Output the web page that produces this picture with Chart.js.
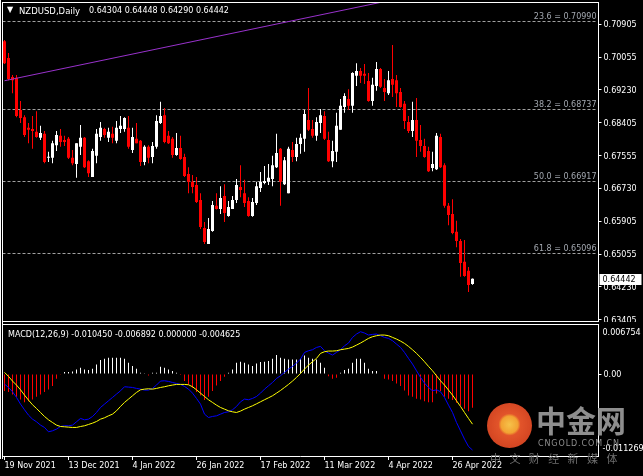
<!DOCTYPE html>
<html>
<head>
<meta charset="utf-8">
<script src="https://cdn.jsdelivr.net/npm/chart.js@4.4.1/dist/chart.umd.min.js"></script>
<style>
html, body { margin: 0; padding: 0; background: #000; overflow: hidden; }
#wrap { position: relative; width: 643px; height: 476px; background: #000; font-family: "DejaVu Sans", sans-serif; }
canvas { position: absolute; left: 0; }
#price { top: 0; }
#macd { top: 322px; }
.ln { position: absolute; background: #fff; }
.txt { position: absolute; color: #fff; font-size: 8px; line-height: 10px; white-space: pre; }
.wm { position: absolute; font-family: "Noto Sans CJK SC", sans-serif; white-space: pre; }
</style>
</head>
<body>
<div id="wrap">
  <canvas id="price" width="643" height="322"></canvas>
  <canvas id="macd" width="643" height="154"></canvas>

  <div class="ln" style="left:0;top:0;width:1px;height:459px"></div>
  <div class="ln" style="left:2px;top:2px;width:1px;height:457px"></div>
  <div class="ln" style="left:2px;top:2px;width:597px;height:1px"></div>
  <div class="ln" style="left:2px;top:321px;width:597px;height:1px"></div>
  <div class="ln" style="left:2px;top:324px;width:597px;height:1px"></div>

  <div class="txt" style="left:7px;top:5px;font-size:8px">▼</div>
  <div class="txt" id="symbol" style="left:19px;top:6px;font-size:8.5px"></div>
  <div class="txt" id="ohlc" style="left:89px;top:6px"></div>
  <div class="txt" id="macdTitle" style="left:8px;top:330px"></div>

  <div class="wm" style="left:487px;top:403px;width:45px;height:45px;border-radius:50%;
       background:radial-gradient(circle at 50% 48%, #f6c24a 0, #f2a232 26%, #e2542a 34%, #c83a1c 100%);"></div>
  <div class="wm" style="left:536px;top:399px;font-size:30px;font-weight:bold;color:#8e8e8e;line-height:40px">中金网</div>
  <div class="wm" style="left:538px;top:439px;font-family:'DejaVu Sans';font-size:8px;letter-spacing:0.9px;color:#8e8e8e">CNGOLD.COM.CN</div>
  <div class="wm" style="left:490px;top:450px;font-size:11px;letter-spacing:8.4px;color:#6e6e6e">中文财经新媒体</div>
</div>

<script>
// NZDUSD daily, 19 Nov 2021 .. 29 Apr 2022 (one value per bar)
var tickDates = ["19 Nov 2021", "13 Dec 2021", "4 Jan 2022", "26 Jan 2022",
                 "17 Feb 2022", "11 Mar 2022", "4 Apr 2022", "26 Apr 2022"];
var barsPerTick = 16;
var slots = 149; // bars plus the empty shift on the right

var opens = [0.7047,0.7004,0.6956,0.6954,0.6872,0.6854,0.6827,0.6824,0.6817,0.6802,
  0.6812,0.6751,0.6751,0.6783,0.6807,0.6796,0.6799,0.6751,0.6735,0.6779,
  0.6802,0.6742,0.6702,0.6756,0.6804,0.6824,0.6802,0.6812,0.6794,0.6824,
  0.6824,0.6827,0.6771,0.6799,0.6794,0.6740,0.6779,0.6753,0.6779,0.6839,
  0.6859,0.6807,0.6799,0.6758,0.6776,0.6753,0.6710,0.6690,0.6682,0.6644,
  0.6573,0.6532,0.6565,0.6629,0.6621,0.6654,0.6603,0.6621,0.6644,0.6677,
  0.6661,0.6641,0.6603,0.6636,0.6674,0.6687,0.6690,0.6697,0.6727,0.6774,
  0.6684,0.6661,0.6771,0.6753,0.6786,0.6799,0.6847,0.6824,0.6807,0.6839,
  0.6857,0.6796,0.6742,0.6766,0.6822,0.6880,0.6900,0.6883,0.6959,0.6971,
  0.6964,0.6946,0.6895,0.6933,0.6976,0.6928,0.6915,0.6951,0.6948,0.6918,
  0.6888,0.6842,0.6819,0.6847,0.6796,0.6781,0.6768,0.6725,0.6722,0.6804,
  0.6732,0.6629,0.6608,0.6563,0.6540,0.6487,0.6464,0.64304];
var highs = [0.7050,0.7017,0.6961,0.6961,0.6895,0.6859,0.6839,0.6857,0.6869,0.6832,
  0.6819,0.6766,0.6794,0.6819,0.6824,0.6807,0.6804,0.6771,0.6788,0.6834,
  0.6804,0.6745,0.6774,0.6824,0.6842,0.6827,0.6827,0.6830,0.6844,0.6857,
  0.6854,0.6857,0.6827,0.6839,0.6796,0.6783,0.6783,0.6791,0.6859,0.6893,
  0.6877,0.6819,0.6804,0.6814,0.6807,0.6761,0.6727,0.6707,0.6702,0.6661,
  0.6588,0.6598,0.6641,0.6661,0.6679,0.6684,0.6641,0.6654,0.6697,0.6732,
  0.6695,0.6651,0.6649,0.6690,0.6715,0.6730,0.6735,0.6756,0.6812,0.6776,
  0.6753,0.6779,0.6791,0.6802,0.6812,0.6872,0.6928,0.6847,0.6854,0.6875,
  0.6869,0.6817,0.6794,0.6865,0.6900,0.6915,0.6925,0.6968,0.6991,0.6979,
  0.6989,0.6966,0.6954,0.6994,0.6979,0.6951,0.6971,0.7037,0.6961,0.6928,
  0.6895,0.6857,0.6893,0.6903,0.6834,0.6799,0.6779,0.6766,0.6814,0.6812,
  0.6737,0.6636,0.6646,0.6591,0.6545,0.6542,0.6474,0.64448];
var lows = [0.6989,0.6948,0.6915,0.6854,0.6839,0.6804,0.6788,0.6774,0.6802,0.6796,
  0.6737,0.6740,0.6737,0.6768,0.6779,0.6781,0.6748,0.6732,0.6700,0.6758,
  0.6725,0.6702,0.6702,0.6737,0.6794,0.6802,0.6791,0.6788,0.6788,0.6814,
  0.6817,0.6774,0.6763,0.6788,0.6730,0.6732,0.6737,0.6737,0.6774,0.6837,
  0.6788,0.6786,0.6751,0.6756,0.6746,0.6702,0.6661,0.6661,0.6636,0.6570,
  0.6532,0.6532,0.6563,0.6620,0.6608,0.6588,0.6601,0.6621,0.6636,0.6651,
  0.6626,0.6601,0.6601,0.6631,0.6664,0.6684,0.6682,0.6679,0.6725,0.6629,
  0.6682,0.6661,0.6740,0.6742,0.6761,0.6766,0.6819,0.6802,0.6794,0.6814,
  0.6796,0.6740,0.6727,0.6740,0.6822,0.6865,0.6872,0.6865,0.6933,0.6941,
  0.6938,0.6893,0.6883,0.6921,0.6928,0.6895,0.6910,0.6905,0.6880,0.6878,
  0.6824,0.6814,0.6804,0.6753,0.6766,0.6751,0.6715,0.6717,0.6720,0.6725,
  0.6624,0.6580,0.6557,0.6524,0.6449,0.6449,0.6410,0.64290];
var closes = [0.6991,0.6951,0.6948,0.6857,0.6852,0.6809,0.6822,0.6819,0.6804,0.6814,
  0.6740,0.6753,0.6788,0.6809,0.6791,0.6791,0.6751,0.6737,0.6788,0.6802,
  0.6727,0.6712,0.6768,0.6812,0.6827,0.6809,0.6817,0.6802,0.6827,0.6832,
  0.6852,0.6779,0.6804,0.6788,0.6740,0.6779,0.6751,0.6781,0.6844,0.6857,
  0.6791,0.6788,0.6758,0.6776,0.6748,0.6705,0.6690,0.6677,0.6639,0.6575,
  0.6537,0.6570,0.6631,0.6621,0.6649,0.6611,0.6626,0.6644,0.6682,0.6669,
  0.6636,0.6603,0.6639,0.6679,0.6690,0.6692,0.6700,0.6732,0.6763,0.6690,
  0.6745,0.6774,0.6753,0.6786,0.6802,0.6862,0.6822,0.6807,0.6842,0.6859,
  0.6799,0.6742,0.6768,0.6832,0.6883,0.6908,0.6883,0.6966,0.6971,0.6959,
  0.6959,0.6895,0.6936,0.6976,0.6931,0.6918,0.6948,0.6936,0.6915,0.6880,
  0.6844,0.6819,0.6847,0.6794,0.6781,0.6753,0.6717,0.6735,0.6807,0.6727,
  0.6629,0.6606,0.6560,0.6540,0.6484,0.6451,0.6428,0.64442];

// MACD(12,26,9)
var macdMain = [-0.00138,-0.00184,-0.00243,-0.00321,-0.00413,-0.00491,-0.00565,-0.00620,-0.00656,-0.00702,
  -0.00734,-0.00794,-0.00780,-0.00757,-0.00721,-0.00711,-0.00711,-0.00702,-0.00656,-0.00610,
  -0.00629,-0.00620,-0.00583,-0.00528,-0.00459,-0.00413,-0.00367,-0.00321,-0.00275,-0.00230,
  -0.00174,-0.00179,-0.00184,-0.00197,-0.00207,-0.00220,-0.00220,-0.00197,-0.00151,-0.00096,
  -0.00092,-0.00101,-0.00115,-0.00129,-0.00142,-0.00170,-0.00207,-0.00262,-0.00335,-0.00413,
  -0.00551,-0.00597,-0.00583,-0.00574,-0.00551,-0.00528,-0.00519,-0.00491,-0.00445,-0.00381,
  -0.00344,-0.00353,-0.00335,-0.00308,-0.00262,-0.00207,-0.00161,-0.00115,-0.00060,-0.00023,
  0.00023,0.00069,0.00106,0.00151,0.00207,0.00298,0.00321,0.00335,0.00367,0.00381,
  0.00321,0.00289,0.00262,0.00298,0.00335,0.00390,0.00427,0.00505,0.00551,0.00583,
  0.00565,0.00537,0.00546,0.00551,0.00528,0.00505,0.00491,0.00459,0.00413,0.00367,
  0.00298,0.00216,0.00138,0.00046,-0.00046,-0.00124,-0.00184,-0.00230,-0.00216,-0.00243,
  -0.00321,-0.00427,-0.00528,-0.00666,-0.00780,-0.00895,-0.00996,-0.010450];
var macdSignal = [0.00023,-0.00032,-0.00096,-0.00151,-0.00216,-0.00289,-0.00358,-0.00422,-0.00473,-0.00528,
  -0.00583,-0.00629,-0.00666,-0.00702,-0.00721,-0.00725,-0.00730,-0.00734,-0.00734,-0.00721,
  -0.00711,-0.00693,-0.00675,-0.00652,-0.00620,-0.00601,-0.00574,-0.00551,-0.00505,-0.00445,
  -0.00390,-0.00344,-0.00298,-0.00252,-0.00216,-0.00207,-0.00202,-0.00207,-0.00197,-0.00184,
  -0.00174,-0.00161,-0.00151,-0.00142,-0.00142,-0.00142,-0.00147,-0.00174,-0.00216,-0.00262,
  -0.00308,-0.00353,-0.00390,-0.00427,-0.00459,-0.00482,-0.00505,-0.00519,-0.00528,-0.00509,
  -0.00482,-0.00459,-0.00436,-0.00409,-0.00381,-0.00353,-0.00326,-0.00298,-0.00262,-0.00225,
  -0.00184,-0.00142,-0.00096,-0.00046,0.00009,0.00069,0.00124,0.00170,0.00216,0.00285,
  0.00308,0.00317,0.00317,0.00321,0.00335,0.00344,0.00353,0.00372,0.00399,0.00427,
  0.00459,0.00491,0.00514,0.00528,0.00537,0.00537,0.00528,0.00505,0.00482,0.00454,
  0.00422,0.00381,0.00335,0.00285,0.00230,0.00170,0.00106,0.00046,-0.00023,-0.00092,
  -0.00151,-0.00220,-0.00289,-0.00367,-0.00445,-0.00528,-0.00610,-0.006892];
var macdHist = [-0.00234,-0.00248,-0.00280,-0.00312,-0.00349,-0.00386,-0.00372,-0.00349,-0.00312,-0.00280,
  -0.00248,-0.00211,-0.00165,-0.00064,-0.00010,0.00028,0.00028,0.00037,0.00064,0.00087,
  0.00064,0.00055,0.00073,0.00133,0.00193,0.00211,0.00225,0.00225,0.00225,0.00225,
  0.00211,0.00156,0.00110,0.00073,0.00018,0.00005,-0.00018,0.00018,0.00018,0.00101,
  0.00087,0.00064,0.00041,0.00018,-0.00014,-0.00096,-0.00142,-0.00188,-0.00248,-0.00294,
  -0.00358,-0.00312,-0.00234,-0.00156,-0.00096,-0.00037,0.00018,0.00064,0.00156,0.00170,
  0.00156,0.00133,0.00110,0.00147,0.00165,0.00170,0.00179,0.00211,0.00262,0.00225,
  0.00211,0.00202,0.00202,0.00202,0.00211,0.00257,0.00225,0.00211,0.00202,0.00156,
  0.00087,-0.00028,-0.00064,-0.00050,0.00018,0.00055,0.00073,0.00156,0.00211,0.00211,
  0.00156,0.00073,0.00041,0.00041,0.00000,-0.00064,-0.00073,-0.00096,-0.00129,-0.00165,
  -0.00225,-0.00294,-0.00312,-0.00340,-0.00349,-0.00372,-0.00386,-0.00386,-0.00266,-0.00234,
  -0.00312,-0.00340,-0.00358,-0.00395,-0.00431,-0.00477,-0.00510,-0.004625];
var macdLevel = 0;

// axes as shown by the terminal
var priceMin = 0.63367, priceMax = 0.71438;
var priceTicks = [0.70905, 0.70055, 0.69230, 0.68405, 0.67555, 0.66730, 0.65905, 0.65055, 0.64230, 0.63405];
var macdMin = -0.011269, macdMax = 0.006754;

// fibonacci retracement and trend line
var fiboNames = ["23.6", "38.2", "50.0", "61.8"];
var fiboLevels = [0.70990, 0.68737, 0.66917, 0.65096];
var trendBars = [0, 117];
var trendValues = [0.69465, 0.71940];

var FONT = "DejaVu Sans";
var AXIS_FONT = "8px '" + FONT + "'";
var last = closes.length - 1;

var labels = [];
for (var i = 0; i < slots; i++) {
  labels.push(i % barsPerTick === 0 && tickDates[i / barsPerTick] ? tickDates[i / barsPerTick] : "");
}
var candleColors = closes.map(function(c, k){ return c >= opens[k] ? "#ffffff" : "#ff0000"; });
var bodies = opens.map(function(o, k){ return [o, closes[k]]; });
var wicks = lows.map(function(l, k){ return [l, highs[k]]; });
var trendData = labels.map(function(){ return null; });
trendBars.forEach(function(b, k){ trendData[b] = trendValues[k]; });
var histColors = macdHist.map(function(v){ return v < 0 ? "#ff0000" : "#ffffff"; });

document.getElementById("symbol").textContent = "NZDUSD,Daily";
document.getElementById("ohlc").textContent =
  [opens[last], highs[last], lows[last], closes[last]].map(function(v){ return v.toFixed(5); }).join(" ");
document.getElementById("macdTitle").textContent = "MACD(12,26,9) " +
  [macdMain[last], macdSignal[last], macdLevel, macdHist[last]].map(function(v){ return v.toFixed(6); }).join(" ");

// right axis labels are drawn here so they do not eat into the plot area
function axisText(ctx, text, x, y){
  ctx.fillText(text, x, y);
}

var pricePlugin = {
  id: "priceExtras",
  beforeDatasetsDraw: function(chart){
    var ctx = chart.ctx, y = chart.scales.y, a = chart.chartArea;
    ctx.save();
    ctx.strokeStyle = "#a0a0a0";
    ctx.lineWidth = 1;
    ctx.setLineDash([3, 2]);
    ctx.font = AXIS_FONT;
    ctx.fillStyle = "#a3a8b0";
    ctx.textAlign = "right";
    ctx.textBaseline = "bottom";
    fiboLevels.forEach(function(v, k){
      var py = Math.round(y.getPixelForValue(v)) + 0.5;
      ctx.beginPath();
      ctx.moveTo(a.left, py);
      ctx.lineTo(a.right - 2, py);
      ctx.stroke();
      ctx.fillText(fiboNames[k] + " = " + v.toFixed(5), a.right - 2, py - 1);
    });
    ctx.restore();
  },
  afterDraw: function(chart){
    var ctx = chart.ctx, y = chart.scales.y, a = chart.chartArea;
    ctx.save();
    ctx.font = AXIS_FONT;
    ctx.textBaseline = "middle";
    ctx.fillStyle = "#ffffff";
    priceTicks.forEach(function(v){
      axisText(ctx, v.toFixed(5), a.right + 5, Math.round(y.getPixelForValue(v)) + 0.5);
    });
    var py = Math.round(y.getPixelForValue(closes[last]));
    ctx.fillRect(a.right + 1, py - 5, 42, 11);
    ctx.fillStyle = "#000000";
    axisText(ctx, closes[last].toFixed(5), a.right + 4, py + 0.5);
    ctx.restore();
  }
};

var macdPlugin = {
  id: "macdExtras",
  afterDraw: function(chart){
    var ctx = chart.ctx, a = chart.chartArea, y = chart.scales.y;
    ctx.save();
    ctx.fillStyle = "#ffffff";
    ctx.font = AXIS_FONT;
    ctx.textBaseline = "middle";
    axisText(ctx, macdMax.toFixed(6), a.right + 4, a.top + 8);
    axisText(ctx, macdLevel.toFixed(2), a.right + 5, Math.round(y.getPixelForValue(macdLevel)) + 0.5);
    axisText(ctx, macdMin.toFixed(6), a.right + 4, a.bottom - 7);
    ctx.restore();
  }
};

new Chart(document.getElementById("price"), {
  type: "bar",
  data: {
    labels: labels,
    datasets: [
      { data: wicks, backgroundColor: candleColors, barThickness: 1, grouped: false, order: 2, inflateAmount: 0 },
      { data: bodies, backgroundColor: candleColors, barThickness: 3, grouped: false, order: 1, inflateAmount: 0, minBarLength: 1 },
      { type: "line", data: trendData, borderColor: "#9932cc", borderWidth: 1, pointRadius: 0, spanGaps: true, order: 0 }
    ]
  },
  options: {
    responsive: false, animation: false, events: [],
    layout: { padding: { left: 2.5, top: 3, right: 0, bottom: 1 } },
    plugins: { legend: { display: false }, tooltip: { enabled: false } },
    scales: {
      x: { display: false, offset: true },
      y: {
        position: "right", min: priceMin, max: priceMax,
        afterFit: function(s){ s.width = 44.5; },
        afterBuildTicks: function(s){ s.ticks = priceTicks.map(function(v){ return { value: v }; }); },
        ticks: { display: false },
        grid: { drawOnChartArea: false, color: "#ffffff", tickLength: 3 },
        border: { color: "#ffffff" }
      }
    }
  },
  plugins: [pricePlugin]
});

new Chart(document.getElementById("macd"), {
  type: "bar",
  data: {
    labels: labels,
    datasets: [
      { data: macdHist, backgroundColor: histColors, barThickness: 1, order: 3, inflateAmount: 0 },
      { type: "line", data: macdMain, borderColor: "#0000ff", borderWidth: 1, pointRadius: 0, order: 2 },
      { type: "line", data: macdSignal, borderColor: "#ffff00", borderWidth: 1, pointRadius: 0, order: 1 }
    ]
  },
  options: {
    responsive: false, animation: false, events: [],
    layout: { padding: { left: 2.5, top: 3, right: 0, bottom: 0 } },
    plugins: { legend: { display: false }, tooltip: { enabled: false } },
    scales: {
      x: {
        offset: true,
        afterFit: function(s){ s.height = 20; },
        afterBuildTicks: function(s){ s.ticks = s.ticks.filter(function(t){ return labels[t.value] !== ""; }); },
        ticks: { color: "#ffffff", font: { family: FONT, size: 8 }, align: "start", padding: 1,
                 maxRotation: 0, autoSkip: false },
        grid: { drawOnChartArea: false, offset: false, color: "#ffffff", tickLength: 4 },
        border: { color: "#ffffff" }
      },
      y: {
        position: "right", min: macdMin, max: macdMax,
        afterFit: function(s){ s.width = 44.5; },
        afterBuildTicks: function(s){ s.ticks = [{ value: macdLevel }]; },
        ticks: { display: false },
        grid: { drawOnChartArea: false, color: "#ffffff", tickLength: 3 },
        border: { color: "#ffffff" }
      }
    }
  },
  plugins: [macdPlugin]
});
</script>
</body>
</html>
